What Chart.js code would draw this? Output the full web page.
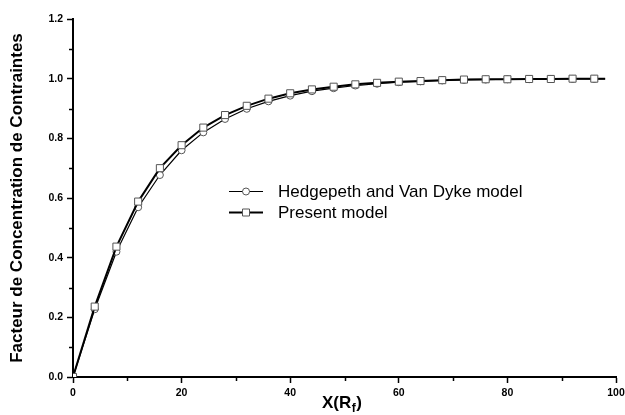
<!DOCTYPE html>
<html>
<head>
<meta charset="utf-8">
<script src="https://cdn.jsdelivr.net/npm/chart.js@4"></script>
<style>
  html, body { margin: 0; padding: 0; background: #fff; }
  #wrap { width: 625px; height: 415px; }
</style>
</head>
<body>
<div id="wrap"><canvas id="c" width="625" height="415"></canvas></div>
<script>
// ---- data ----
const xValues = [0, 4, 8, 12, 16, 20, 24, 28, 32, 36, 40, 44, 48, 52, 56, 60, 64, 68, 72, 76, 80, 84, 88, 92, 96, 98];
const hedgepeth = [0, 0.227, 0.420, 0.569, 0.677, 0.760, 0.820, 0.865, 0.899, 0.924, 0.943, 0.958, 0.968, 0.977, 0.983, 0.988, 0.991, 0.994, 0.996, 0.997, 0.998, 0.998, 0.999, 0.999, 0.999, 0.999];
const present = [0, 0.236, 0.437, 0.588, 0.700, 0.777, 0.836, 0.878, 0.909, 0.933, 0.951, 0.964, 0.973, 0.981, 0.986, 0.990, 0.992, 0.995, 0.997, 0.998, 0.998, 0.999, 0.999, 1.000, 1.000, 1.000];
const markedX = [0, 4, 8, 12, 16, 20, 24, 28, 32, 36, 40, 44, 48, 52, 56, 60, 64, 68, 72, 76, 80, 84, 88, 92, 96];
const seriesNames = ['Hedgepeth and Van Dyke model', 'Present model'];
const yAxisTitle = 'Facteur de Concentration de Contraintes';
const xAxisTitleMain = 'X(R';
const xAxisTitleSub = 'f';
const xAxisTitleEnd = ')';

const FONT = '"Liberation Sans", Arial, Helvetica, sans-serif';

function toPoints(ys) { return xValues.map((x, i) => ({ x: x, y: ys[i] })); }
function radiusFor(r) {
  return (ctx) => markedX.includes(xValues[ctx.dataIndex]) ? r : 0;
}

const extras = {
  id: 'extras',
  afterDraw(chart) {
    const ctx = chart.ctx;
    const xs = chart.scales.x, ys = chart.scales.y;
    const area = chart.chartArea;
    ctx.save();
    // minor ticks
    ctx.strokeStyle = '#000';
    ctx.lineWidth = 1.5;
    const yt = ys.ticks.map(t => t.value);
    for (let i = 0; i < yt.length - 1; i++) {
      const p = Math.round(ys.getPixelForValue((yt[i] + yt[i + 1]) / 2)) + 0.5;
      ctx.beginPath(); ctx.moveTo(area.left - 4, p); ctx.lineTo(area.left, p); ctx.stroke();
    }
    const xt = xs.ticks.map(t => t.value);
    for (let i = 0; i < xt.length - 1; i++) {
      const p = Math.round(xs.getPixelForValue((xt[i] + xt[i + 1]) / 2)) + 0.5;
      ctx.beginPath(); ctx.moveTo(p, area.bottom); ctx.lineTo(p, area.bottom + 4); ctx.stroke();
    }
    // x axis title with subscript
    ctx.fillStyle = '#000';
    ctx.textBaseline = 'alphabetic';
    ctx.textAlign = 'left';
    ctx.font = 'bold 17px ' + FONT;
    const mainW = ctx.measureText(xAxisTitleMain).width;
    ctx.font = 'bold 12px ' + FONT;
    const subW = ctx.measureText(xAxisTitleSub).width;
    ctx.font = 'bold 17px ' + FONT;
    const endW = ctx.measureText(xAxisTitleEnd).width;
    const total = mainW + subW + 1 + endW;
    let tx = 342 - total / 2;
    const base = 408;
    ctx.fillText(xAxisTitleMain, tx, base);
    tx += mainW;
    ctx.font = 'bold 12px ' + FONT;
    ctx.fillText(xAxisTitleSub, tx + 0.5, base + 4);
    tx += subW + 1;
    ctx.font = 'bold 17px ' + FONT;
    ctx.fillText(xAxisTitleEnd, tx, base);
    // legend
    const rows = [191.5, 212.5];
    chart.data.datasets.forEach((ds, i) => {
      const yy = rows[ds.legendRow];
      ctx.strokeStyle = ds.borderColor;
      ctx.lineWidth = ds.borderWidth;
      ctx.beginPath(); ctx.moveTo(229, yy); ctx.lineTo(263, yy); ctx.stroke();
      ctx.fillStyle = '#fff';
      ctx.strokeStyle = ds.pointBorderColor;
      ctx.lineWidth = 1;
      ctx.beginPath();
      if (ds.pointStyle === 'rect') {
        ctx.rect(242.5, yy - 3.5, 7, 7);
      } else {
        ctx.arc(246, yy, 3.5, 0, Math.PI * 2);
      }
      ctx.fill(); ctx.stroke();
      ctx.fillStyle = '#000';
      ctx.font = '17px ' + FONT;
      ctx.textBaseline = 'middle';
      ctx.fillText(ds.label, 278, yy + 1);
    });
    ctx.restore();
  }
};

new Chart(document.getElementById('c'), {
  type: 'line',
  data: {
    datasets: [
      {
        label: seriesNames[1],
        data: toPoints(present),
        legendRow: 1,
        order: 0,
        borderColor: '#000',
        borderWidth: 2,
        pointStyle: 'rect',
        pointRadius: radiusFor(5),
        pointBackgroundColor: '#fff',
        pointBorderColor: '#555',
        pointBorderWidth: 1,
        tension: 0
      },
      {
        label: seriesNames[0],
        data: toPoints(hedgepeth),
        legendRow: 0,
        order: 1,
        borderColor: '#000',
        borderWidth: 1.2,
        pointStyle: 'circle',
        pointRadius: radiusFor(3.5),
        pointBackgroundColor: '#fff',
        pointBorderColor: '#555',
        pointBorderWidth: 1,
        tension: 0
      }
    ]
  },
  options: {
    responsive: false,
    animation: false,
    events: [],
    layout: { padding: { left: 0, top: 19, right: 0, bottom: 0 } },
    plugins: { legend: { display: false }, tooltip: { enabled: false } },
    scales: {
      x: {
        type: 'linear',
        min: 0, max: 100,
        afterFit: (s) => { s.height = 38; s.paddingRight = 9; },
        border: { display: true, color: '#000', width: 2 },
        grid: { drawOnChartArea: false, drawTicks: true, tickLength: 6, tickWidth: 1.5, tickColor: '#000', color: '#000' },
        ticks: { stepSize: 20, color: '#000', padding: 4, font: { family: FONT, size: 10.5, weight: 'bold' }, maxRotation: 0 }
      },
      y: {
        type: 'linear',
        min: 0, max: 1.2,
        afterFit: (s) => { s.width = 73; },
        border: { display: true, color: '#000', width: 2 },
        grid: { drawOnChartArea: false, drawTicks: true, tickLength: 6, tickWidth: 1.5, tickColor: '#000', color: '#000' },
        ticks: { stepSize: 0.2, color: '#000', padding: 4, font: { family: FONT, size: 10.5, weight: 'bold' },
                 callback: (v) => Number(v).toFixed(1) },
        title: { display: true, text: yAxisTitle, color: '#000', padding: { top: 7, bottom: 0 },
                 font: { family: FONT, size: 17, weight: 'bold' } }
      }
    }
  },
  plugins: [extras]
});
</script>
</body>
</html>
